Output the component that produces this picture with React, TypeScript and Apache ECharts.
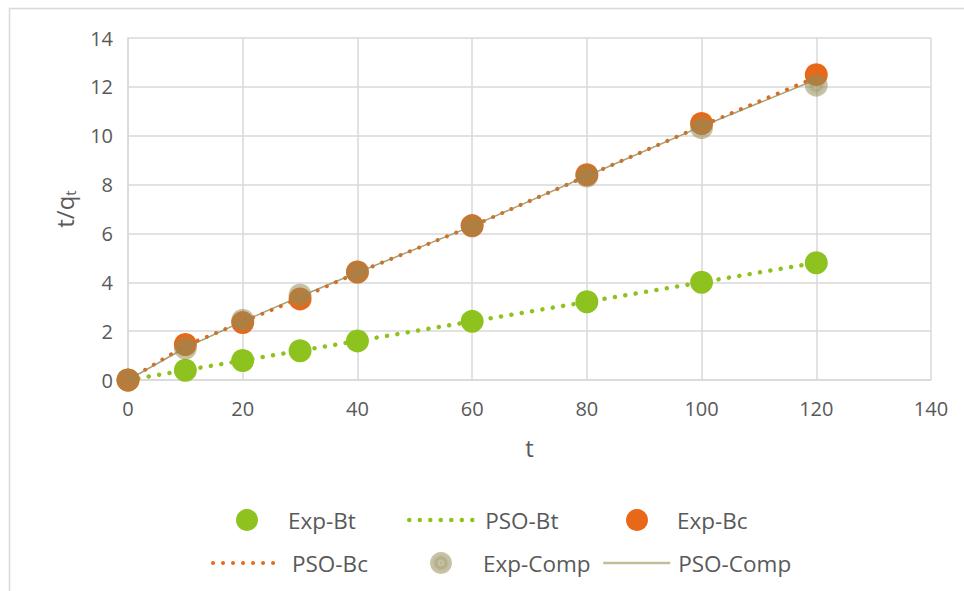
import React, { useEffect, useRef } from "react";
import * as echarts from "echarts";

const tValues = [0, 10, 20, 30, 40, 60, 80, 100, 120];
const expBt = [0, 0.4, 0.8, 1.2, 1.6, 2.4, 3.2, 4.0, 4.8];
const psoBt = [0, 0.4, 0.8, 1.2, 1.6, 2.4, 3.2, 4.0, 4.8];
const expBc = [0, 1.45, 2.35, 3.32, 4.42, 6.32, 8.4, 10.5, 12.5];
const psoBc = [0, 1.4, 2.38, 3.35, 4.4, 6.3, 8.35, 10.4, 12.4];
const expComp = [0, 1.3, 2.45, 3.48, 4.42, 6.3, 8.35, 10.33, 12.07];
const psoComp = [0, 1.32, 2.4, 3.42, 4.4, 6.3, 8.35, 10.38, 12.3];

const GREEN = "#8DC21F";
const ORANGE = "#E8681A";
const KHAKI_LINE = "#C4BD97";
const FONT = "Open Sans";

const pairs = (ys: number[]) => tValues.map((t, i) => [t, ys[i]]);

export default function App() {
  const ref = useRef<HTMLDivElement>(null);
  useEffect(() => {
    const chart = echarts.init(ref.current!, null, { renderer: "svg" });
    const textStyle = { fontFamily: FONT, fontSize: 22.5, color: "#595959", lineHeight: 26 };
    const khakiGrad = new echarts.graphic.RadialGradient(0.5, 0.5, 0.5, [
      { offset: 0, color: "rgba(148,138,84,0.75)" },
      { offset: 0.18, color: "rgba(148,138,84,0.5)" },
      { offset: 0.45, color: "rgba(148,138,84,0.72)" },
      { offset: 0.7, color: "rgba(148,138,84,0.55)" },
      { offset: 1, color: "rgba(148,138,84,0.5)" },
    ]);
    const circleLegend = (name: string, cx: number, top: number, pad: number) => ({
      orient: "horizontal",
      padding: 0,
      selectedMode: false,
      data: [name],
      left: cx - 11,
      top,
      itemWidth: 22,
      itemHeight: 22,
      textStyle: { ...textStyle, padding: [0, 0, 0, pad] },
    });
    const lineLegend = (name: string, left: number, width: number, top: number, pad: number, ls: any) => ({
      orient: "horizontal",
      padding: 0,
      selectedMode: false,
      data: [name],
      left,
      top,
      itemWidth: width,
      itemHeight: 22,
      itemStyle: { color: "transparent", borderWidth: 0, opacity: 0 },
      lineStyle: ls,
      textStyle: { ...textStyle, padding: [0, 0, 0, pad] },
    });
    const dotted = (c: string, w: number, gap: number) => ({
      color: c,
      width: w,
      type: [0.01, gap],
      cap: "round",
    });
    chart.setOption({
      animation: false,
      backgroundColor: "#ffffff",
      textStyle: { fontFamily: FONT },
      graphic: [
        {
          type: "rect",
          shape: { x: 9.5, y: 8.5, width: 1200, height: 1200 },
          style: { fill: "none", stroke: "#D9D9D9", lineWidth: 1.5 },
          silent: true,
        },
      ],
      grid: { left: 128, right: 33, top: 38, bottom: 211, containLabel: false },
      xAxis: {
        type: "value",
        min: 0,
        max: 140,
        interval: 20,
        name: "t",
        nameLocation: "middle",
        nameGap: 53,
        nameTextStyle: { fontFamily: FONT, fontSize: 24, color: "#595959", lineHeight: 28 },
        axisLine: { show: true, lineStyle: { color: "#D9D9D9", width: 1.5 } },
        axisTick: { show: false },
        axisLabel: { fontFamily: FONT, fontSize: 20, color: "#595959", margin: 18 },
        splitLine: { show: true, lineStyle: { color: "#D9D9D9", width: 1.5 } },
      },
      yAxis: {
        type: "value",
        min: 0,
        max: 14,
        interval: 2,
        name: "{a|t/q}{b|t}",
        nameLocation: "middle",
        nameGap: 50,
        nameTextStyle: {
          rich: {
            a: { fontFamily: FONT, fontSize: 24, color: "#595959", lineHeight: 28 },
            b: { fontFamily: FONT, fontSize: 15, color: "#595959", lineHeight: 28, padding: [12, 0, 0, 0] },
          },
        },
        axisLine: { show: true, lineStyle: { color: "#D9D9D9", width: 1.5 } },
        axisTick: { show: false },
        axisLabel: { fontFamily: FONT, fontSize: 20, color: "#595959", margin: 15 },
        splitLine: { show: true, lineStyle: { color: "#D9D9D9", width: 1.5 } },
      },
      legend: [
        circleLegend("Exp-Bt", 247, 507, 25),
        lineLegend("PSO-Bt", 407, 67, 507, 4, dotted(GREEN, 4.5, 10.5)),
        circleLegend("Exp-Bc", 637, 507, 24),
        lineLegend("PSO-Bc", 211, 69, 550, 5, dotted(ORANGE, 4, 10)),
        circleLegend("Exp-Comp", 441, 550, 26),
        lineLegend("PSO-Comp", 602, 67, 550, 3, { color: KHAKI_LINE, width: 2.5, type: "solid" }),
      ],
      series: [
        {
          name: "Exp-Bt",
          type: "scatter",
          data: pairs(expBt),
          symbol: "circle",
          symbolSize: 23,
          itemStyle: { color: GREEN, opacity: 1 },
          z: 2,
        },
        {
          name: "PSO-Bt",
          type: "line",
          data: pairs(psoBt),
          showSymbol: false,
          symbol: "none",
          lineStyle: dotted(GREEN, 4.5, 10.5),
          itemStyle: { color: GREEN },
          z: 3,
        },
        {
          name: "Exp-Bc",
          type: "scatter",
          data: pairs(expBc),
          symbol: "circle",
          symbolSize: 23,
          itemStyle: { color: ORANGE, opacity: 1 },
          z: 4,
        },
        {
          name: "PSO-Bc",
          type: "line",
          data: pairs(psoBc),
          showSymbol: false,
          symbol: "none",
          lineStyle: dotted(ORANGE, 4, 10),
          itemStyle: { color: ORANGE },
          z: 5,
        },
        {
          name: "Exp-Comp",
          type: "scatter",
          data: pairs(expComp),
          symbol: "circle",
          symbolSize: 23,
          itemStyle: { color: khakiGrad, opacity: 1 },
          z: 6,
        },
        {
          name: "PSO-Comp",
          type: "line",
          data: pairs(psoComp),
          showSymbol: false,
          symbol: "none",
          lineStyle: { color: "rgba(148,138,84,0.8)", width: 1.5 },
          itemStyle: { color: KHAKI_LINE },
          z: 7,
        },
      ],
    });
    return () => chart.dispose();
  }, []);
  return (
    <div
      ref={ref}
      style={{ position: "fixed", left: 0, top: 0, width: 964, height: 591 }}
    />
  );
}
